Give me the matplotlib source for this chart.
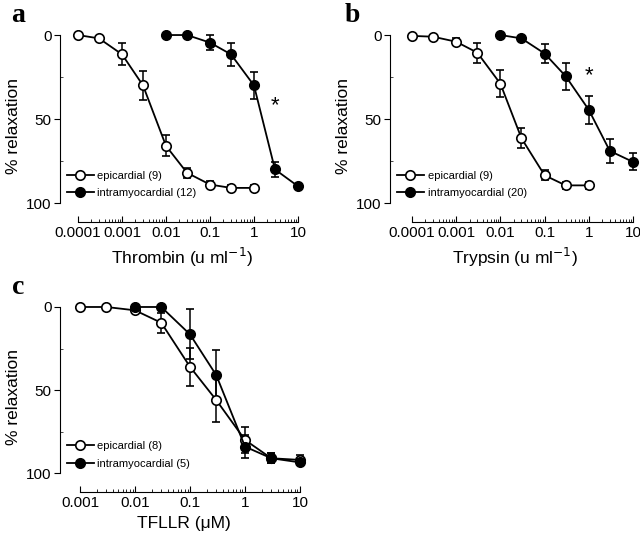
import numpy as np
import matplotlib
matplotlib.use("Agg")
import matplotlib.pyplot as plt
from matplotlib.ticker import NullFormatter, FixedLocator
from matplotlib.lines import Line2D

plt.rcParams['font.family'] = ['Liberation Sans', 'DejaVu Sans']

# ---- Panel a: Thrombin ----
a_epi_x = [0.0001, 0.0003, 0.001, 0.003, 0.01, 0.03, 0.1, 0.3, 1]
a_epi_y = [0, 2, 11.5, 30, 66, 82, 89, 91, 91]
a_epi_e = [0, 0, 6.5, 8.5, 6.3, 3, 2, 2, 2]
a_int_x = [0.01, 0.03, 0.1, 0.3, 1, 3, 10]
a_int_y = [0, 0, 4.5, 11.5, 30, 80, 90]
a_int_e = [0, 0, 4.6, 7, 8, 4.5, 0]

# ---- Panel b: Trypsin ----
b_epi_x = [0.0001, 0.0003, 0.001, 0.003, 0.01, 0.03, 0.1, 0.3, 1]
b_epi_y = [0.5, 1, 4, 10.5, 29, 61.5, 83.5, 89.5, 89.5]
b_epi_e = [0, 0, 2, 6, 8, 6, 3, 2, 2]
b_int_x = [0.01, 0.03, 0.1, 0.3, 1, 3, 10]
b_int_y = [0, 2, 11, 24.5, 44.5, 69, 75.5]
b_int_e = [0, 0, 5.5, 8, 8.5, 7, 5]

# ---- Panel c: TFLLR ----
c_epi_x = [0.001, 0.003, 0.01, 0.03, 0.1, 0.3, 1, 3, 10]
c_epi_y = [0, 0, 2, 9.5, 36, 56, 80, 91, 92]
c_epi_e = [0, 0, 0, 6, 11.5, 13, 8, 3, 3]
c_int_x = [0.01, 0.03, 0.1, 0.3, 1, 3, 10]
c_int_y = [0, 0, 16.5, 41, 84, 91, 93.5]
c_int_e = [0, 0, 15, 15, 7, 3, 0]

W, H = 640, 538
fig = plt.figure(figsize=(6.4, 5.38), dpi=100)

def px_axes(left, top, right, bottom):
    return fig.add_axes([left / W, 1 - bottom / H, (right - left) / W, (bottom - top) / H])

def style(ax, xlo, xhi, xticks, xticklabels, xlabel, legend_labels,
          epi, intra, star):
    (ex, ey, ee), (ix, iy, ie) = epi, intra
    ax.set_xscale('log')
    kw = dict(color='black', lw=1.3, capsize=3.2, capthick=1.1,
              elinewidth=1.1, marker='o', ms=6.8, mec='black', mew=1.2,
              zorder=3)
    ax.errorbar(ex, ey, yerr=ee, mfc='white', **kw)
    ax.errorbar(ix, iy, yerr=ie, mfc='black', **kw)
    ax.set_xlim(xlo, xhi)
    ax.set_ylim(111.3, -3)
    for s in ['top', 'right']:
        ax.spines[s].set_visible(False)
    ax.spines['left'].set_bounds(0, 100)
    ax.spines['bottom'].set_bounds(xticks[0], xticks[-1])
    ax.spines['left'].set_linewidth(0.8)
    ax.spines['bottom'].set_linewidth(0.8)
    ax.set_yticks([0, 50, 100])
    ax.yaxis.set_minor_locator(FixedLocator([25, 75]))
    ax.tick_params(axis='y', which='major', direction='out', length=4,
                   width=0.8, labelsize=11, pad=2)
    ax.tick_params(axis='y', which='minor', direction='in', length=2.5,
                   width=0.5)
    ax.set_xticks(xticks)
    ax.set_xticklabels(xticklabels)
    minors = [d * m for d in xticks[:-1] for m in range(2, 10)]
    ax.xaxis.set_minor_locator(FixedLocator(minors))
    ax.xaxis.set_minor_formatter(NullFormatter())
    ax.tick_params(axis='x', which='major', direction='in', length=4,
                   width=0.8, labelsize=11, pad=3)
    ax.tick_params(axis='x', which='minor', direction='in', length=2,
                   width=0.6)
    ax.set_xlabel(xlabel, fontsize=12.5, labelpad=4)
    ax.set_ylabel('% relaxation', fontsize=12.5, labelpad=4)
    handles = [
        Line2D([], [], color='black', lw=1.3, marker='o', ms=6.8,
               mfc='white', mec='black', mew=1.2),
        Line2D([], [], color='black', lw=1.3, marker='o', ms=6.8,
               mfc='black', mec='black', mew=1.2),
    ]
    ax.legend(handles, legend_labels, loc='lower left',
              bbox_to_anchor=(0.01, 0.1), frameon=False, fontsize=8,
              handlelength=2.4, handletextpad=0.35, labelspacing=0.7,
              borderaxespad=0)
    if star is not None:
        ax.text(star[0], star[1], '*', fontsize=16, ha='center', va='center')

axa = px_axes(60, 30, 305, 222)
style(axa, 10 ** -4.41, 10 ** 1.16,
      [0.0001, 0.001, 0.01, 0.1, 1, 10],
      ['0.0001', '0.001', '0.01', '0.1', '1', '10'],
      r'Thrombin (u ml$^{-1}$)',
      ['epicardial (9)', 'intramyocardial (12)'],
      (a_epi_x, a_epi_y, a_epi_e), (a_int_x, a_int_y, a_int_e),
      (3.0, 42))

axb = px_axes(390, 30, 640, 222)
style(axb, 10 ** -4.5, 10 ** 1.16,
      [0.0001, 0.001, 0.01, 0.1, 1, 10],
      ['0.0001', '0.001', '0.01', '0.1', '1', '10'],
      r'Trypsin (u ml$^{-1}$)',
      ['epicardial (9)', 'intramyocardial (20)'],
      (b_epi_x, b_epi_y, b_epi_e), (b_int_x, b_int_y, b_int_e),
      (1.0, 24))

axc = px_axes(60, 302, 307, 492)
style(axc, 10 ** -3.364, 10 ** 1.127,
      [0.001, 0.01, 0.1, 1, 10],
      ['0.001', '0.01', '0.1', '1', '10'],
      'TFLLR (\u03bcM)',
      ['epicardial (8)', 'intramyocardial (5)'],
      (c_epi_x, c_epi_y, c_epi_e), (c_int_x, c_int_y, c_int_e),
      None)

for lab, x, y in [('a', 18, 15), ('b', 352, 15), ('c', 18, 287)]:
    fig.text(x / W, 1 - y / H, lab, fontsize=20, fontweight='bold',
             family=['Liberation Serif', 'DejaVu Serif'], ha='center', va='center')

fig.savefig('out.png', dpi=100)
